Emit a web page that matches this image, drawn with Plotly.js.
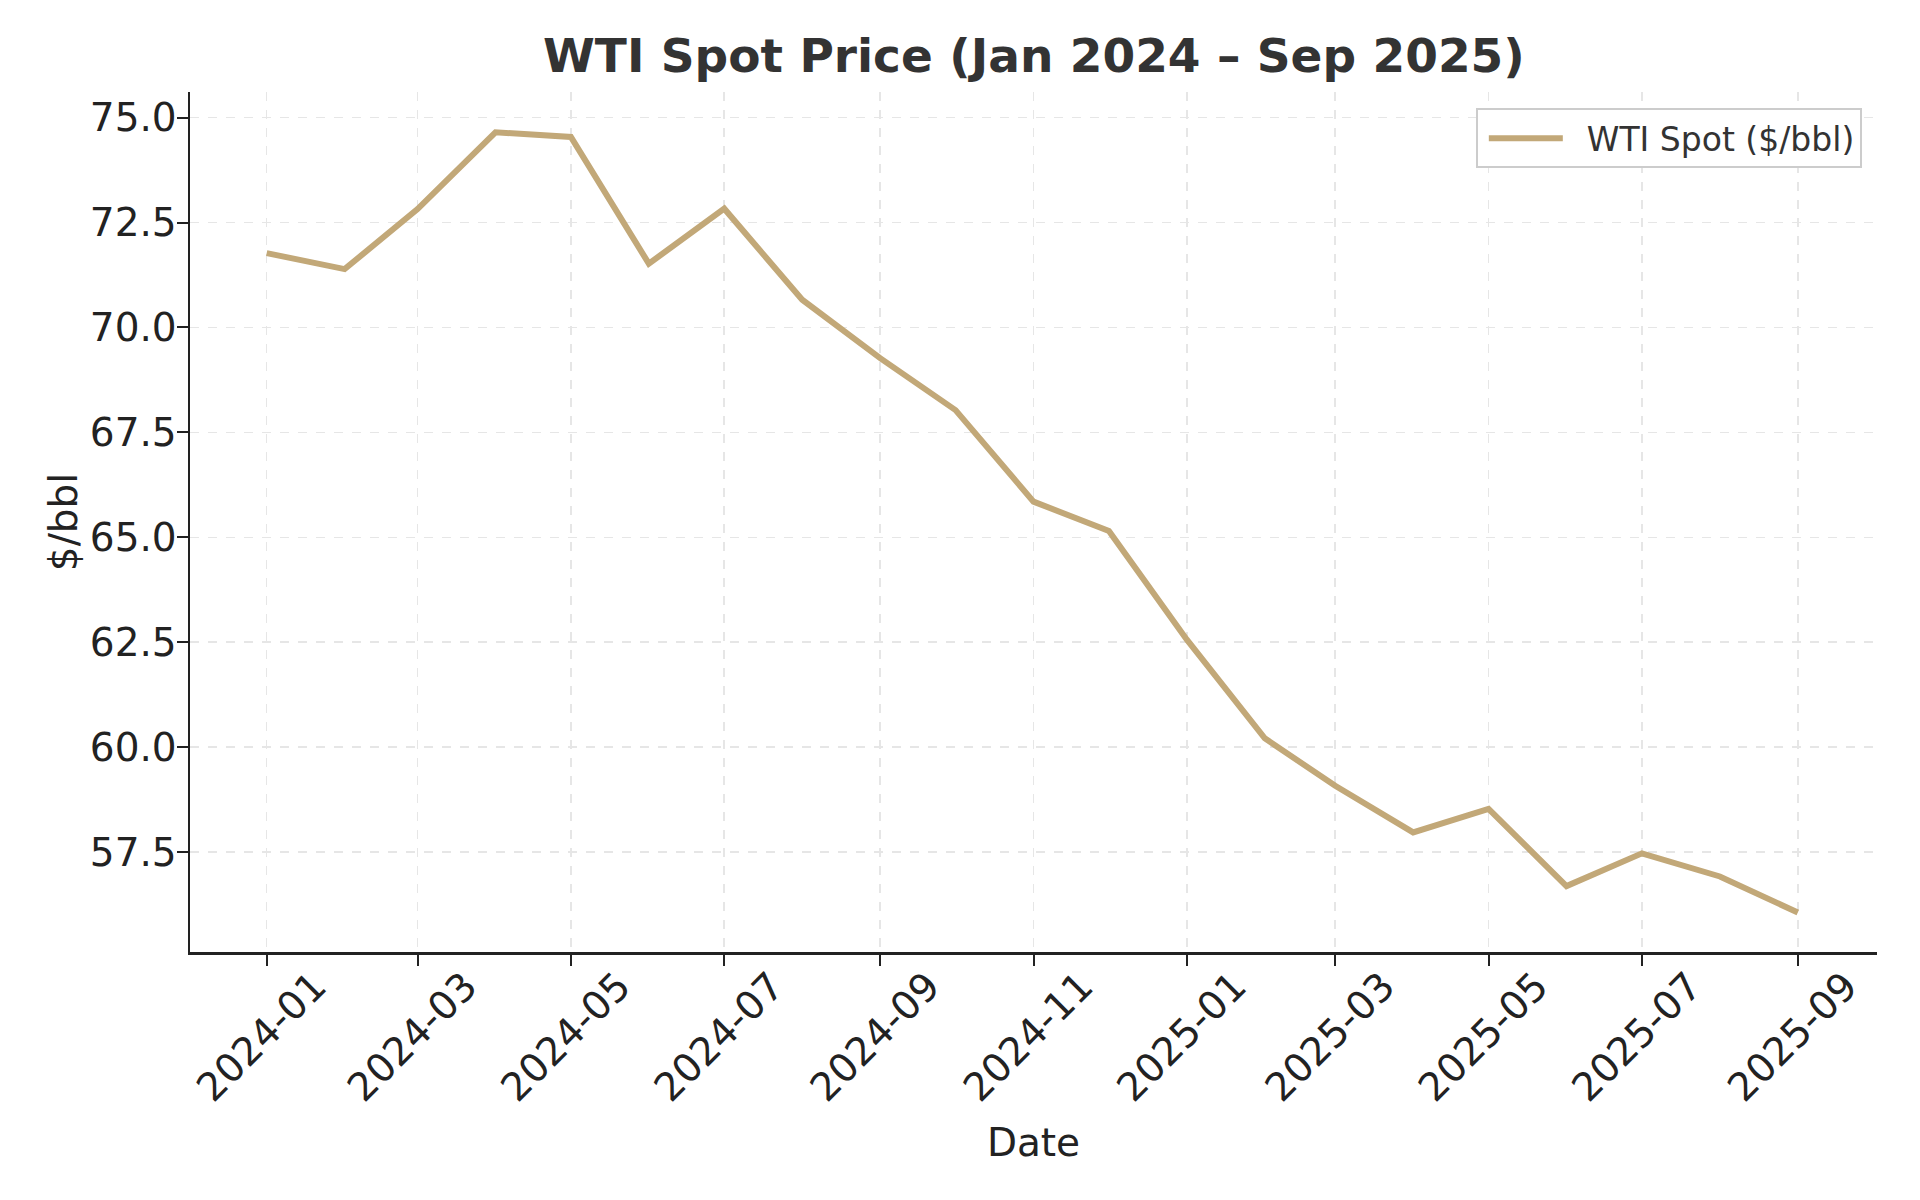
<!DOCTYPE html>
<html>
<head>
<meta charset="utf-8">
<script src="https://cdn.plot.ly/plotly-3.0.1.min.js"></script>
<style>
  html, body { margin: 0; padding: 0; background: #fff; }
  #chart { width: 1920px; height: 1200px; }
</style>
</head>
<body>
<div id="chart"></div>
<script>
// monthly WTI spot, $/bbl
const months = [
  '2024-01-01', '2024-02-01', '2024-03-01', '2024-04-01', '2024-05-01', '2024-06-01',
  '2024-07-01', '2024-08-01', '2024-09-01', '2024-10-01', '2024-11-01', '2024-12-01',
  '2025-01-01', '2025-02-01', '2025-03-01', '2025-04-01', '2025-05-01', '2025-06-01',
  '2025-07-01', '2025-08-01', '2025-09-01'
];
const wtiSpot = [
  71.77, 71.39, 72.82, 74.65, 74.54, 71.52,
  72.83, 70.66, 69.27, 68.03, 65.85, 65.15,
  62.56, 60.21, 59.08, 57.97, 58.53, 56.69,
  57.47, 56.92, 56.06
];
const tickMonths = [
  '2024-01-01', '2024-03-01', '2024-05-01', '2024-07-01', '2024-09-01', '2024-11-01',
  '2025-01-01', '2025-03-01', '2025-05-01', '2025-07-01', '2025-09-01'
];
const tickLabels = [
  '2024-01', '2024-03', '2024-05', '2024-07', '2024-09', '2024-11',
  '2025-01', '2025-03', '2025-05', '2025-07', '2025-09'
];

const font = 'DejaVu Sans, Verdana, sans-serif';

const traces = [{
  type: 'scatter',
  mode: 'lines',
  x: months,
  y: wtiSpot,
  name: 'WTI Spot ($/bbl)',
  line: { color: '#c2a878', width: 6 },
}];

const layout = {
  width: 1920,
  height: 1200,
  paper_bgcolor: '#fff',
  plot_bgcolor: '#fff',
  margin: { l: 190, r: 43, t: 92, b: 248 },
  font: { family: font, color: '#222', size: 39 },
  title: {
    text: '<b>WTI Spot Price (Jan 2024 – Sep 2025)</b>',
    font: { family: font, size: 47, color: '#333' },
    x: 0.5385, xanchor: 'center',
    y: 0.954, yanchor: 'middle',
  },
  showlegend: true,
  legend: {
    x: 0.991, xanchor: 'right',
    y: 0.981, yanchor: 'top',
    bgcolor: '#fff',
    bordercolor: '#cccccc',
    borderwidth: 2,
    itemwidth: 99,
    font: { family: font, size: 33, color: '#333' },
  },
  xaxis: {
    type: 'date',
    range: ['2023-12-01 12:00', '2025-10-02 12:00'],
    tickmode: 'array',
    tickvals: tickMonths,
    ticktext: tickLabels,
    tickangle: -45,
    ticklabelshift: 48,
    ticklabelstandoff: -18,
    ticks: 'outside',
    ticklen: 11,
    tickwidth: 2,
    tickcolor: '#222',
    tickfont: { family: font, size: 39, color: '#222' },
    showline: true,
    linecolor: '#222',
    linewidth: 2.5,
    showgrid: true,
    gridcolor: '#e6e6e6',
    gridwidth: 1.6,
    griddash: 'dash',
    zeroline: false,
    title: { text: 'Date', font: { family: font, size: 39, color: '#222' }, standoff: 20 },
  },
  yaxis: {
    range: [55.12, 75.61],
    tickmode: 'linear',
    tick0: 57.5,
    dtick: 2.5,
    tickformat: '.1f',
    ticks: 'outside',
    ticklen: 11,
    tickwidth: 2,
    tickcolor: '#222',
    ticklabelstandoff: -8,
    tickfont: { family: font, size: 39, color: '#222' },
    showline: true,
    linecolor: '#222',
    linewidth: 2.5,
    showgrid: true,
    gridcolor: '#e6e6e6',
    gridwidth: 1.6,
    griddash: 'dash',
    zeroline: false,
    title: { text: '$/bbl', font: { family: font, size: 39, color: '#222' }, standoff: 0 },
  },
};

Plotly.newPlot('chart', traces, layout, { displayModeBar: false, staticPlot: true }).then(gd => {
  // matplotlib-style longer legend sample line
  gd.querySelectorAll('.legend .js-line').forEach(p => p.setAttribute('d', 'M11,0h74'));
});
</script>
</body>
</html>
